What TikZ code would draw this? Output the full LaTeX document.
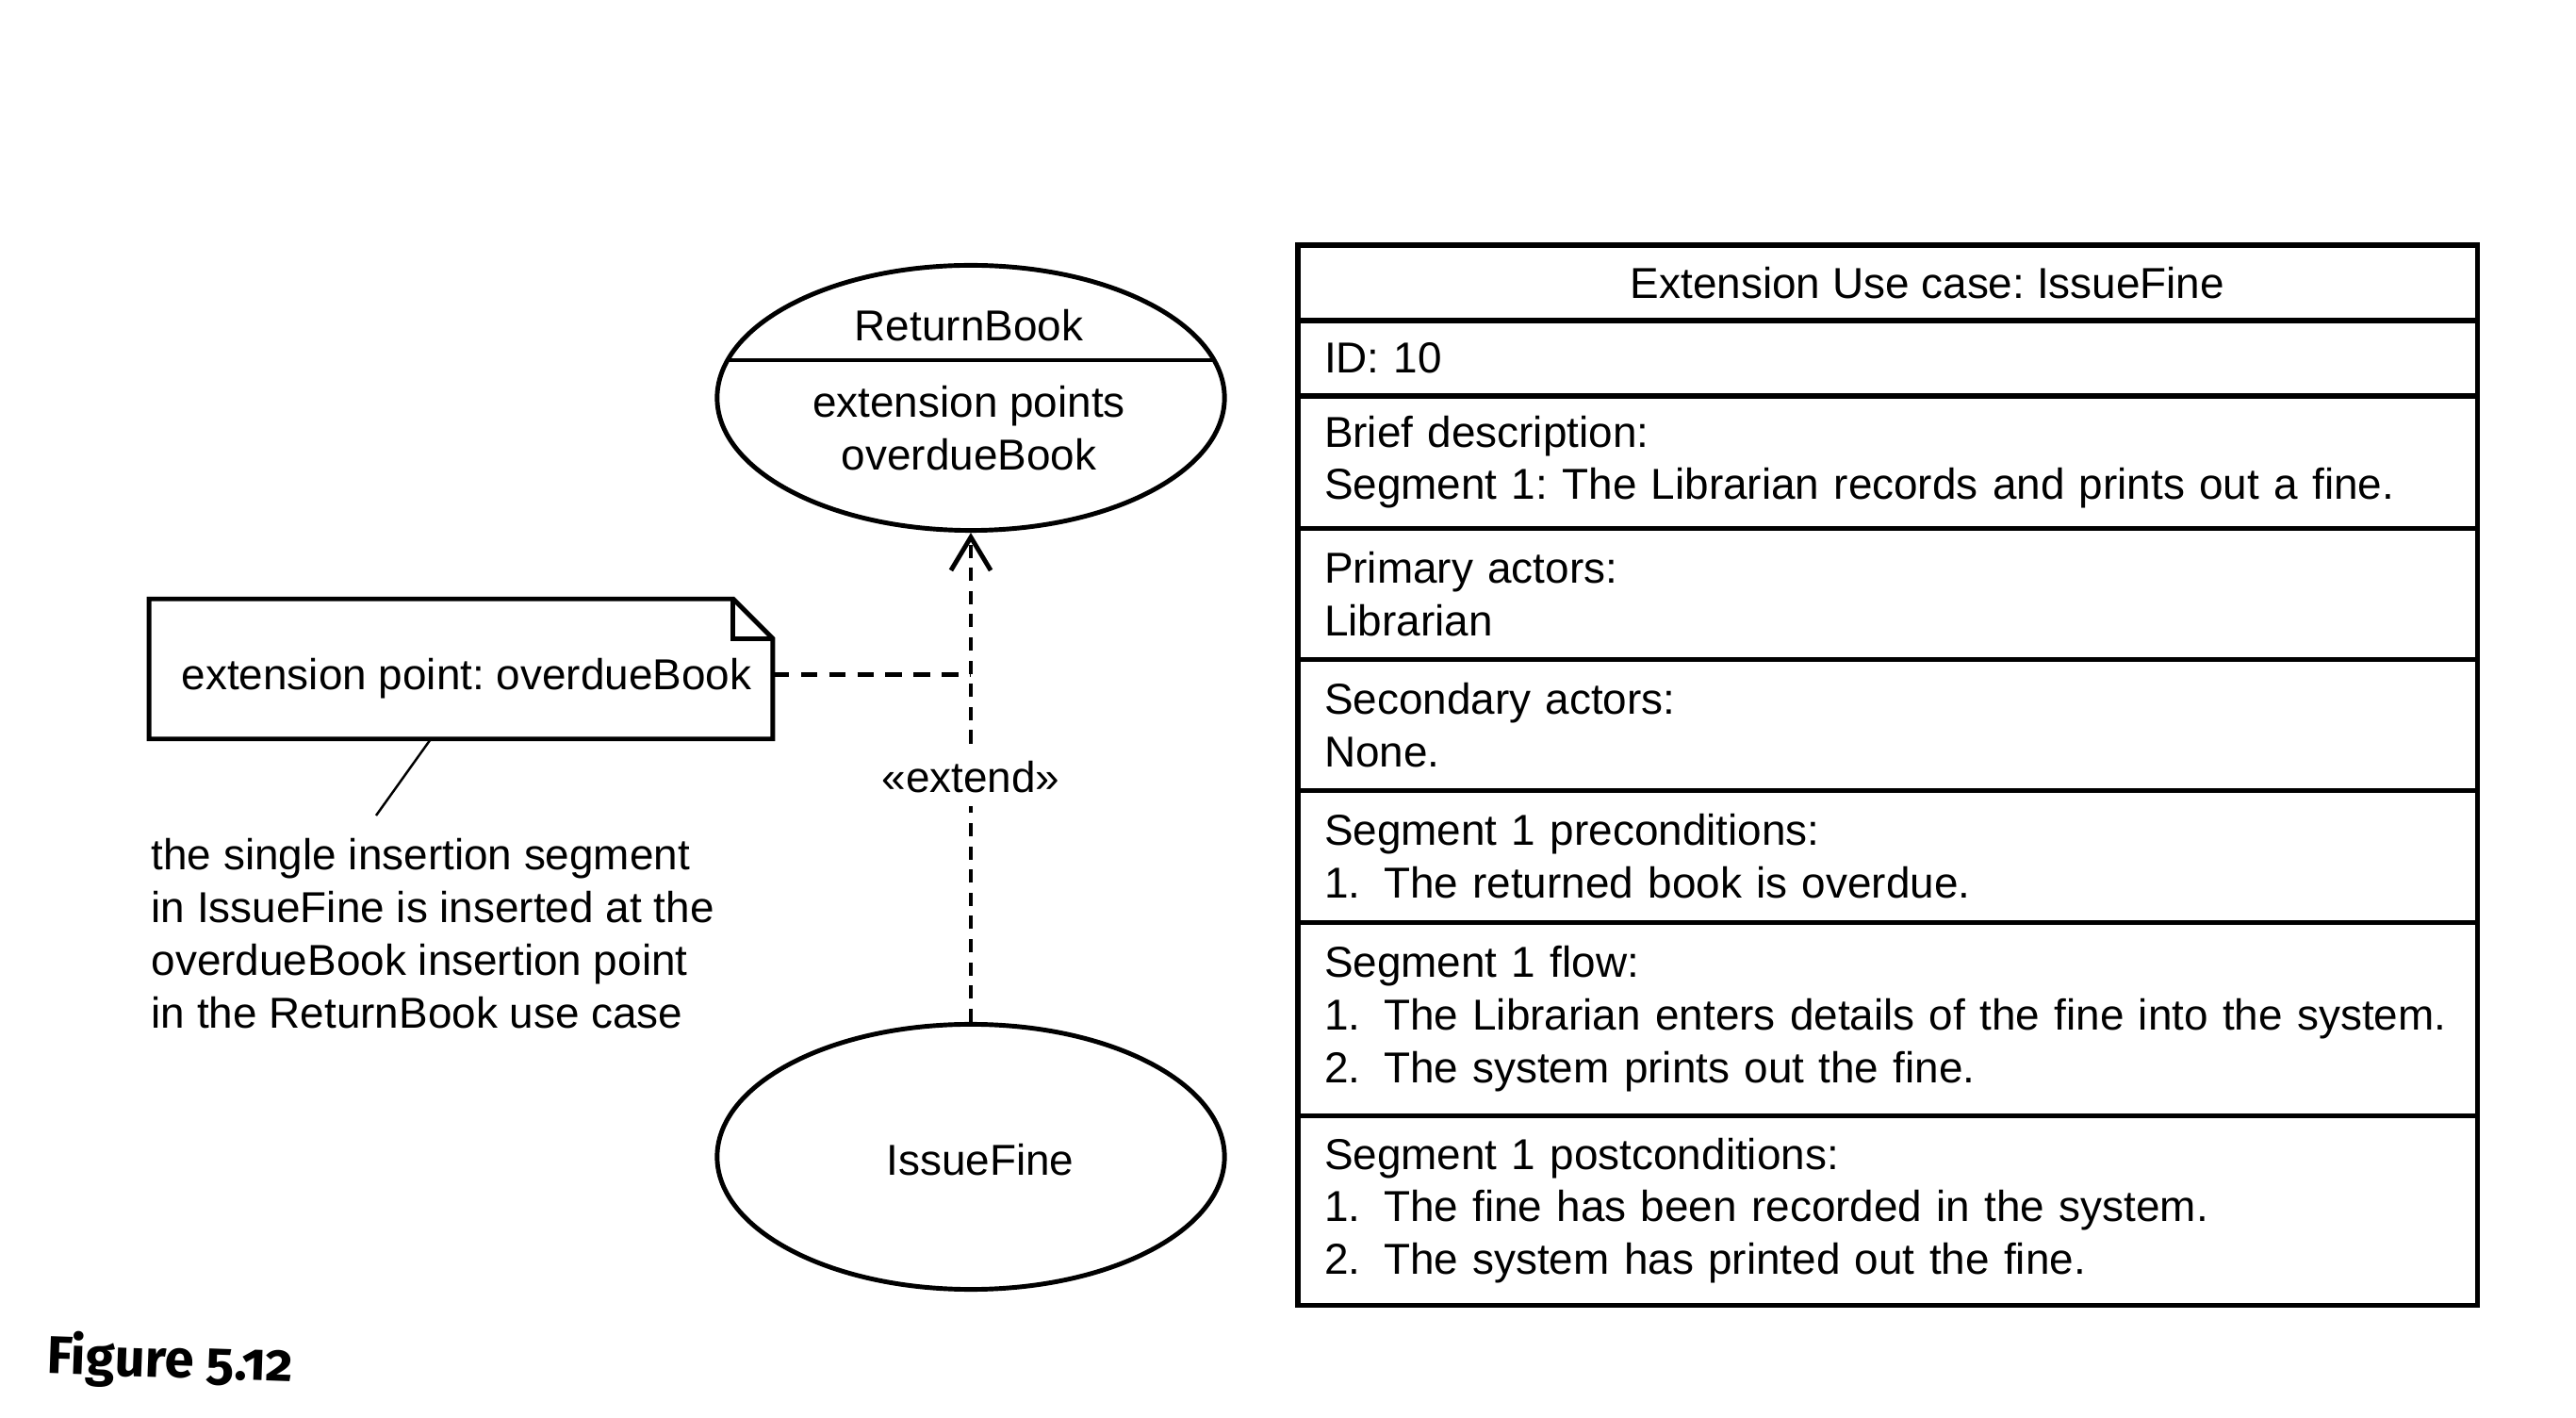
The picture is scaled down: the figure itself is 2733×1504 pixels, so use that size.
\documentclass[tikz,border=0pt]{standalone}
\usepackage{fontspec}
\setmainfont{Liberation Sans}
\newfontfamily\capfont[Numbers=OldStyle]{Fira Sans}
\usetikzlibrary{shapes.geometric,arrows.meta,calc}
\frenchspacing

% numbered item with a fixed hanging label
\newcommand\itm[2]{\mbox{\makebox[0.63cm][l]{#1}#2}}

\begin{document}
\begin{tikzpicture}[x=0.01cm,y=-0.01cm,
  every node/.style={font=\fontsize{13.05pt}{15.9pt}\selectfont},
  usecase/.style={ellipse,draw,line width=1.4pt,minimum width=5.38cm,minimum height=2.81cm,inner sep=0pt},
  row/.style={draw,line width=1.5pt,rectangle,anchor=north west,outer sep=0pt,
              minimum width=12.51cm,text width=11.95cm,inner xsep=0.28cm,inner ysep=0pt,align=left},
  depv/.style={line width=1.4pt,dash pattern=on 4pt off 3pt},
  deph/.style={line width=1.4pt,dash pattern=on 5pt off 3.5pt},
  outline/.style={line width=1.4pt,line join=miter},
  anchorline/.style={line width=0.7pt}
]
\useasboundingbox[fill=white] (0,0) rectangle (2733,1504);

% --- use cases ---
\node[usecase] (rb) at (1030,422) {};
\draw[line width=1.4pt] ($(rb.center)+(-258,-40)$) -- ($(rb.center)+(258,-40)$);
\node (rbname) at (1028,345) {ReturnBook};
\node[align=center] (rbext) at (1028,454) {extension points\\overdueBook};

\node[usecase] (if) at (1030,1227) {};
\node (ifname) at (1040,1230) {IssueFine};

% --- extend dependency ---
\draw[depv,-{Straight Barb[length=10pt,width=12pt,line width=1.4pt]}]
  (if.north) -- node[fill=white,inner sep=4pt] (ext) {«extend»} (rb.south);

% --- note with folded corner ---
\node[minimum width=6.60cm,minimum height=1.47cm,inner sep=0pt] (note) at (489,709.5) {};
\node (notetxt) at (495,720) {extension point: overdueBook};
\draw[outline] (note.north west) -- ($(note.north east)+(-42,0)$) -- ($(note.north east)+(0,42)$)
  -- (note.south east) -- (note.south west) -- cycle;
\draw[outline] ($(note.north east)+(-42,0)$) -- ($(note.north east)+(-42,42)$) -- ($(note.north east)+(0,42)$);

\coordinate (ns) at ($(note.east)+(0,6)$);
\coordinate (ej) at (if.north |- ns);
\draw[deph] (ns) -- (ej);

% --- comment attached to the note ---
\node[anchor=west,align=left,inner sep=0pt] (cm) at (160,990)
  {the single insertion segment\\in IssueFine is inserted at the\\overdueBook insertion point\\in the ReturnBook use case};
\coordinate (na) at ($(note.south west)+(299,0)$);
\coordinate (ne) at (399,865);
\draw[anchorline] (na) -- (ne);

% --- use case specification table ---
\node[row,minimum height=0.80cm] (t0) at (1377,260) {};
\node (t0txt) at (2045,300) {Extension Use case: IssueFine};
\node[row,minimum height=0.80cm] (t1) at (t0.south west) {ID: 10};
\node[row,minimum height=1.40cm] (t2) at (t1.south west)
  {Brief description:\\\mbox{Segment 1: The Librarian records and prints out a fine.}};
\node[row,minimum height=1.39cm] (t3) at (t2.south west) {Primary actors:\\Librarian};
\node[row,minimum height=1.39cm] (t4) at (t3.south west) {Secondary actors:\\None.};
\node[row,minimum height=1.40cm] (t5) at (t4.south west)
  {Segment 1 preconditions:\\\itm{1.}{The returned book is overdue.}};
\node[row,minimum height=2.05cm] (t6) at (t5.south west)
  {Segment 1 flow:\\\itm{1.}{The Librarian enters details of the fine into the system.}\\\itm{2.}{The system prints out the fine.}};
\node[row,minimum height=2.01cm] (t7) at (t6.south west)
  {Segment 1 postconditions:\\\itm{1.}{The fine has been recorded in the system.}\\\itm{2.}{The system has printed out the fine.}};

% --- caption ---
\node[anchor=west,rotate=-2,inner sep=0pt] (fig) at (49,1440)
  {\capfont\bfseries\fontsize{16pt}{18pt}\selectfont Figure 5.12};
\end{tikzpicture}
\end{document}
